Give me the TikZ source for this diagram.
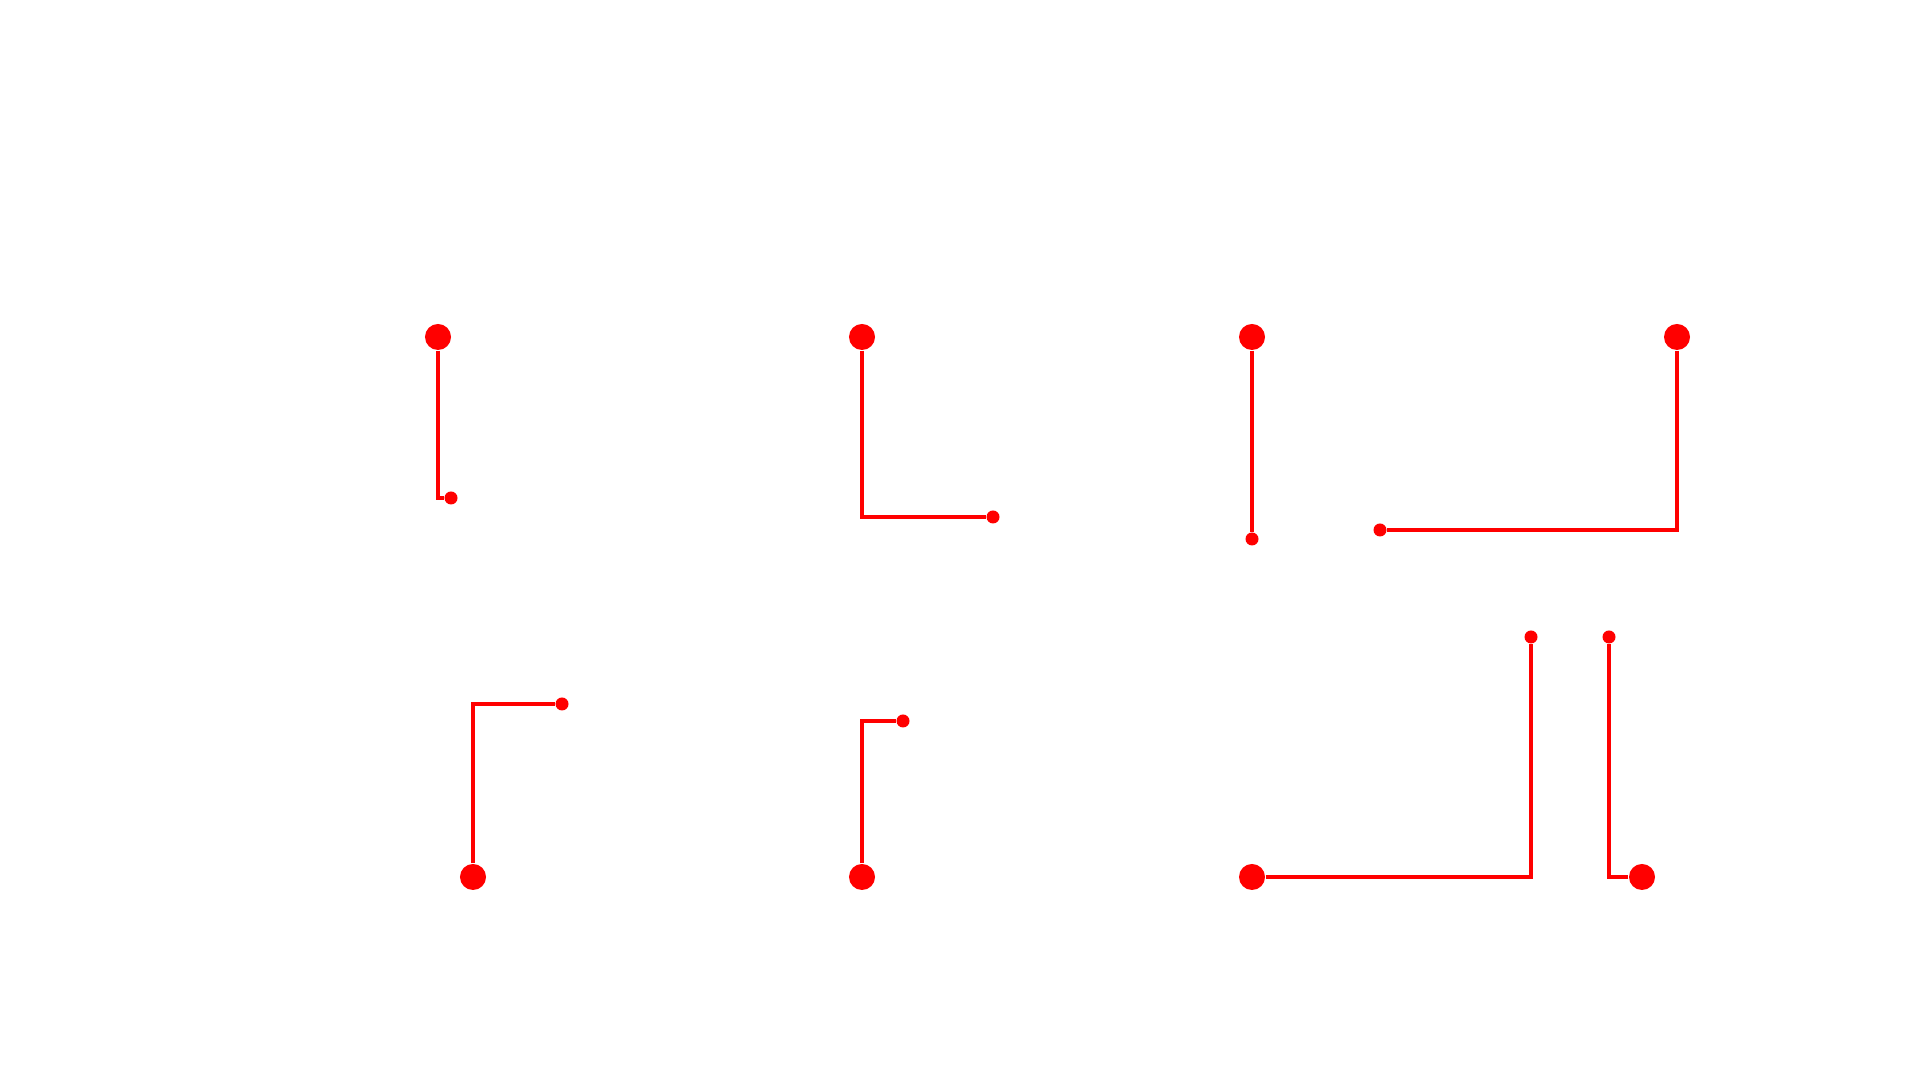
\documentclass[tikz,border=0pt]{standalone}
\usepackage{tikz}
\usetikzlibrary{positioning}

\tikzset{
  bigdot/.style={circle, fill=red, inner sep=0pt, minimum size=0.26cm},
  smalldot/.style={circle, fill=red, inner sep=0pt, minimum size=0.13cm},
  wire/.style={color=red, line width=0.9pt}
}

\begin{document}
\begin{tikzpicture}[x=0.01cm,y=-0.01cm]
\useasboundingbox (0,0) rectangle (1920,1080);
% upper row
\node[bigdot] (b1) at (438,337) {};
\node[smalldot] (s1) at (451,498) {};
\node[bigdot] (b2) at (862,337) {};
\node[smalldot] (s2) at (993,517) {};
\node[bigdot] (b3) at (1252,337) {};
\node[smalldot] (s3) at (1252,539) {};
\node[bigdot] (b4) at (1677,337) {};
\node[smalldot] (s4) at (1380,530) {};
% lower row
\node[bigdot] (b5) at (473,877) {};
\node[smalldot] (s5) at (562,704) {};
\node[bigdot] (b6) at (862,877) {};
\node[smalldot] (s6) at (903,721) {};
\node[bigdot] (b7) at (1252,877) {};
\node[smalldot] (s7) at (1531,637) {};
\node[bigdot] (b8) at (1642,877) {};
\node[smalldot] (s8) at (1609,637) {};

\draw[wire] (b1) |- (s1);
\draw[wire] (b2) |- (s2);
\draw[wire] (b3) -- (s3);
\draw[wire] (b4) |- (s4);
\draw[wire] (b5) |- (s5);
\draw[wire] (b6) |- (s6);
\draw[wire] (b7) -| (s7);
\draw[wire] (b8) -| (s8);
\end{tikzpicture}
\end{document}
